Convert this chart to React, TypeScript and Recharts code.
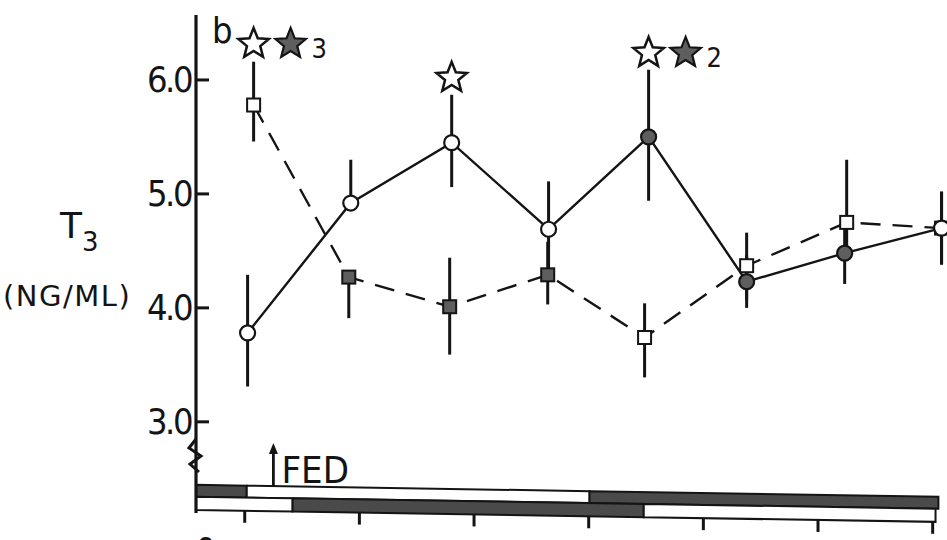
import React from 'react';
import { LineChart, Line, XAxis, YAxis, ErrorBar, ReferenceArea, ReferenceDot } from 'recharts';

// ---- data (x = hours, y = T3 ng/ml) ----
const circleHours = [0.1, 3.7, 7.22, 10.6, 14.09, 17.51, 20.93, 24.31];
const circleT3 = [3.78, 4.92, 5.45, 4.69, 5.5, 4.23, 4.48, 4.7];
const circleErrLow = [0.47, 0, 0.39, 0.4, 0.56, 0.23, 0.27, 0.32];
const circleErrHigh = [0.51, 0.38, 0.42, 0.42, 0.59, 0.23, 0.27, 0.32];
const circleFilled = [false, false, false, false, true, true, true, false];

const squareHours = [0.31, 3.63, 7.15, 10.57, 13.95, 17.51, 21.0, 24.31];
const squareT3 = [5.78, 4.27, 4.01, 4.29, 3.74, 4.37, 4.75, 4.7];
const squareErrLow = [0.32, 0.36, 0.42, 0.26, 0.35, 0.3, 0.3, 0.32];
const squareErrHigh = [0.38, 0, 0.43, 0.29, 0.3, 0.29, 0.55, 0.32];
const squareFilled = [false, true, true, true, false, false, false, false];

const yTicks = [3, 4, 5, 6];
const xTicks = [0, 4, 8, 12, 16, 20, 24];
const xTickLabels: Record<number, string> = { 0: '0' };

// light/dark schedule rows (hour boundaries, dark flags)
const rowAEdges = [-1.7, 0.07, 12.03, 24.2];
const rowADark = [true, false, true];
const rowBEdges = [-1.7, 1.67, 13.92, 24.1];
const rowBDark = [false, true, false];

const fedHour = 1.0;

// significance stars: anchor hour, level, whether a filled star follows, count
const starHours = [0.31, 7.22, 14.09];
const starLevels = [6.316, 6.018, 6.237];
const starHasFilled = [true, false, true];
const starCounts = ['3', '', '2'];

const circleData = circleHours.map((x, i) => ({
  x, y: circleT3[i], err: [circleErrLow[i], circleErrHigh[i]], filled: circleFilled[i],
}));
const squareData = squareHours.map((x, i) => ({
  x, y: squareT3[i], err: [squareErrLow[i], squareErrHigh[i]], filled: squareFilled[i],
}));

const INK = '#141414';
const GRAY = '#5e5e5e';
const DARK = '#4a4a4a';
const NUM_FONT = "'DejaVu Sans Condensed', 'Liberation Sans Narrow', 'DejaVu Sans', sans-serif";
const AXIS_X = 196;
const SKEW = 0.016; // slight tilt of the scanned time bar

const CircleDot = (props: any) => {
  const { cx, cy, payload, index } = props;
  if (cx == null || cy == null) return <g key={`c${index}`} />;
  return (
    <circle key={`c${index}`} cx={cx} cy={cy} r={7.5}
      fill={payload.filled ? GRAY : '#fff'} stroke={INK} strokeWidth={2.2} />
  );
};

const SquareDot = (props: any) => {
  const { cx, cy, payload, index } = props;
  if (cx == null || cy == null) return <g key={`s${index}`} />;
  return (
    <rect key={`s${index}`} x={cx - 6.5} y={cy - 6.5} width={13} height={13}
      fill={payload.filled ? GRAY : '#fff'} stroke={INK} strokeWidth={2} />
  );
};

function starPoints(cx: number, cy: number, R: number, r: number) {
  const pts: string[] = [];
  for (let k = 0; k < 10; k++) {
    const ang = -Math.PI / 2 + (k * Math.PI) / 5;
    const rad = k % 2 === 0 ? R : r;
    pts.push(`${cx + rad * Math.cos(ang)},${cy + rad * Math.sin(ang)}`);
  }
  return pts.join(' ');
}

const makeStarShape = (i: number) => (props: any) => {
  const { cx, cy } = props;
  return (
    <g>
      <polygon points={starPoints(cx, cy, 16, 7)} fill="#fff" stroke={INK} strokeWidth={2.5} />
      {starHasFilled[i] && (
        <polygon points={starPoints(cx + 37, cy, 16, 7)} fill={GRAY} stroke={INK} strokeWidth={2.2} />
      )}
      {starCounts[i] && (
        <text x={cx + 58} y={cy + 14} fontSize={27} fontFamily={NUM_FONT} fill={INK}>{starCounts[i]}</text>
      )}
    </g>
  );
};

const SkewedBox = (props: any) => {
  const { x, y, width, height, fill } = props;
  const d0 = SKEW * (x - AXIS_X);
  const d1 = SKEW * (x + width - AXIS_X);
  return (
    <polygon
      points={`${x},${y + d0} ${x + width},${y + d1} ${x + width},${y + height + d1} ${x},${y + height + d0}`}
      fill={fill} stroke={INK} strokeWidth={2} />
  );
};

const FedShape = (props: any) => {
  const { cx, cy } = props;
  const base = cy + SKEW * (cx - AXIS_X);
  return (
    <g>
      <line x1={cx} y1={base} x2={cx} y2={base - 34} stroke={INK} strokeWidth={2.8} />
      <polygon points={`${cx - 4.5},${base - 32} ${cx + 4.5},${base - 32} ${cx},${base - 43}`} fill={INK} />
      <text x={cx + 8} y={base - 3} fontSize={38} fontFamily={NUM_FONT} fill={INK}>FED</text>
    </g>
  );
};

const YTick = (props: any) => {
  const { x, y, payload } = props;
  return (
    <g>
      <line x1={x} x2={x + 13} y1={y} y2={y} stroke={INK} strokeWidth={3} />
      <text x={x - 5} y={y} textAnchor="end" dominantBaseline="central" fontSize={36}
        fontFamily={NUM_FONT} letterSpacing={-2.5} fill={INK}>
        {Number(payload.value).toFixed(1)}
      </text>
    </g>
  );
};

const XTick = (props: any) => {
  const { x, y, payload } = props;
  const lab = xTickLabels[payload.value];
  const top = y - 3 + SKEW * (x - AXIS_X);
  return (
    <g>
      <line x1={x} x2={x} y1={top} y2={top + 12} stroke={INK} strokeWidth={3} />
      {lab && (
        <text x={x - 39} y={y + 50} textAnchor="middle" fontSize={36} fontFamily={NUM_FONT} fill={INK}>{lab}</text>
      )}
    </g>
  );
};

const YLabel = (props: any) => {
  const vb = props.viewBox || { x: 0, y: 15 };
  const ox = vb.x;
  const oy = vb.y;
  return (
    <g>
      <text x={ox + 60} y={oy + 223} fontSize={36} fontFamily="'DejaVu Sans', sans-serif" fill={INK}>
        T<tspan dy={13} fontSize={26}>3</tspan>
      </text>
      <text x={ox + 3} y={oy + 291} fontSize={29} fontFamily="'DejaVu Sans', sans-serif" letterSpacing={1.5} fill={INK}>
        (NG/ML)
      </text>
      <text x={ox + 212} y={oy + 28} fontSize={36} fontFamily={NUM_FONT} fill={INK}>b</text>
      <path d={`M ${ox + 196} ${oy + 424} L ${ox + 189} ${oy + 433} L ${ox + 201} ${oy + 441} L ${ox + 190} ${oy + 449} L ${ox + 199} ${oy + 457}`}
        fill="none" stroke={INK} strokeWidth={3} />
    </g>
  );
};

export default function App() {
  const rowATop = 2.447, rowAMid = 2.342, rowBBot = 2.226;
  return (
    <div style={{ position: 'absolute', left: 0, top: 0, width: 947, height: 540, background: '#fff' }}>
      <LineChart width={947} height={540} margin={{ top: 15, right: 0, bottom: 0, left: 0 }}>
        <XAxis type="number" dataKey="x" domain={[-1.7, 24.5]} ticks={xTicks} allowDataOverflow
          axisLine={false} tickLine={false} tickSize={0} tickMargin={0}
          height={27} tick={<XTick />} interval={0} />
        <YAxis type="number" domain={[2.2, 6.57]} ticks={yTicks} allowDataOverflow width={196}
          axisLine={{ stroke: INK, strokeWidth: 3.2 }} tickLine={false} tickSize={0} tickMargin={0}
          tick={<YTick />} interval={0} label={{ content: <YLabel /> }} />

        {rowADark.map((d, i) => (
          <ReferenceArea key={`a${i}`} x1={rowAEdges[i]} x2={rowAEdges[i + 1]} y1={rowAMid} y2={rowATop}
            fill={d ? DARK : '#fff'} fillOpacity={1} ifOverflow="visible" shape={SkewedBox} />
        ))}
        {rowBDark.map((d, i) => (
          <ReferenceArea key={`b${i}`} x1={rowBEdges[i]} x2={rowBEdges[i + 1]} y1={rowBBot} y2={rowAMid}
            fill={d ? DARK : '#fff'} fillOpacity={1} ifOverflow="visible" shape={SkewedBox} />
        ))}

        <Line data={squareData} dataKey="y" type="linear" stroke={INK} strokeWidth={2.4}
          strokeDasharray="20 12" dot={<SquareDot />} activeDot={false} isAnimationActive={false}>
          <ErrorBar dataKey="err" width={0} strokeWidth={3} stroke={INK} direction="y" />
        </Line>
        <Line data={circleData} dataKey="y" type="linear" stroke={INK} strokeWidth={2.4}
          dot={<CircleDot />} activeDot={false} isAnimationActive={false}>
          <ErrorBar dataKey="err" width={0} strokeWidth={3} stroke={INK} direction="y" />
        </Line>

        {starHours.map((h, i) => (
          <ReferenceDot key={`st${i}`} x={h} y={starLevels[i]} r={0} ifOverflow="visible" shape={makeStarShape(i)} />
        ))}
        <ReferenceDot x={fedHour} y={rowATop} r={0} ifOverflow="visible" shape={FedShape} />
      </LineChart>
    </div>
  );
}
